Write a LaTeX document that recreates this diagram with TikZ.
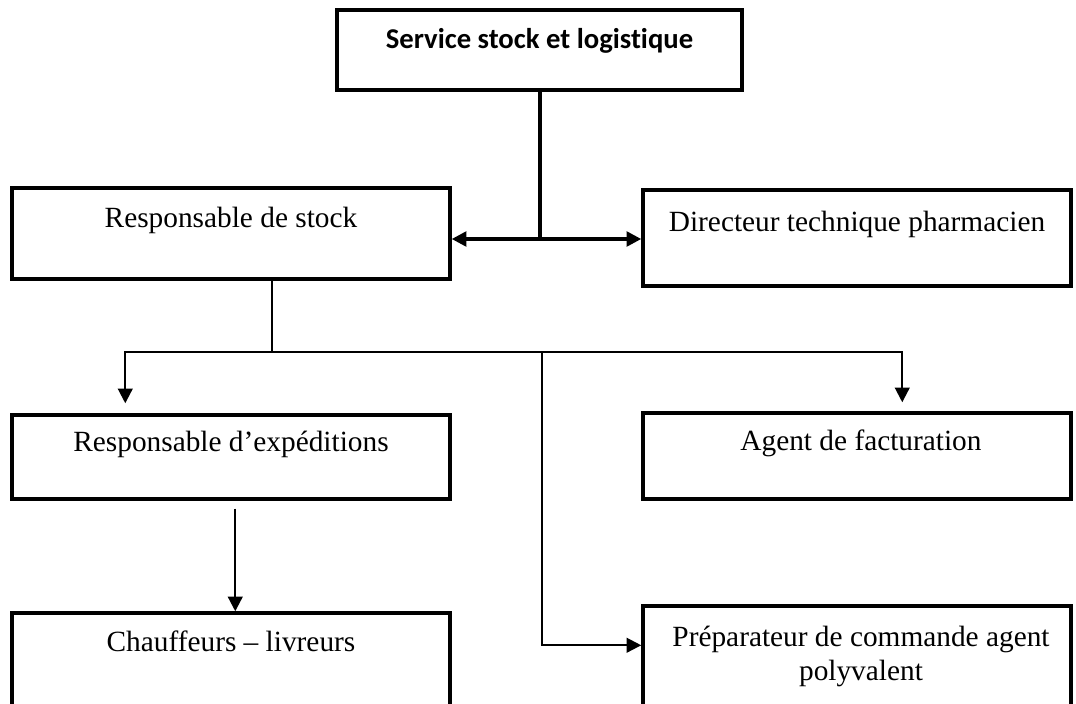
\documentclass[tikz,border=0pt]{standalone}
\usepackage{fontspec}
\setmainfont{Liberation Serif}
\newfontfamily\titlefont[Ligatures=NoCommon]{Carlito}
\usetikzlibrary{arrows.meta,calc}

\tikzset{
  box/.style={draw, rectangle, line width=2.6pt, inner sep=0pt},
  lbl/.style={anchor=base, inner sep=0pt, font=\fontsize{22pt}{28pt}\selectfont},
  ttl/.style={anchor=base, inner sep=0pt, font=\titlefont\bfseries\fontsize{21.5pt}{26pt}\selectfont},
  thickline/.style={line width=2.5pt},
  thinline/.style={line width=1.6pt},
  midline/.style={line width=1.7pt},
  tip/.style={-{Triangle[length=11pt,width=11pt]}},
  tips/.style={{Triangle[length=11pt,width=11pt]}-{Triangle[length=11pt,width=11pt]}}
}

\begin{document}
\begin{tikzpicture}[x=0.75pt,y=-0.75pt]
  \useasboundingbox (0,0) rectangle (1076,704);
  \fill[white] (0,0) rectangle (1076,704);
  \clip (0,0) rectangle (1076,704);

  % boxes
  \node[box, minimum width=303.75pt, minimum height=60pt]   (top)   at (539.5,50) {};
  \node[box, minimum width=328.5pt,  minimum height=68.25pt] (stock) at (231,233.5) {};
  \node[box, minimum width=321pt,    minimum height=72pt]   (dir)   at (857,238) {};
  \node[box, minimum width=328.5pt,  minimum height=63pt]   (exp)   at (231,457) {};
  \node[box, minimum width=321pt,    minimum height=64.5pt] (fact)  at (857,456) {};
  \node[box, minimum width=328.5pt,  minimum height=97.5pt] (chauf) at (231,678) {};
  \node[box, minimum width=321pt,    minimum height=97.5pt] (prep)  at (857,671) {};

  % texts
  \node[ttl] (topT)   at ($(top.north)+(0,40)$)   {Service stock et logistique};
  \node[lbl] (stockT) at ($(stock.north)+(0,41)$) {Responsable de stock};
  \node[lbl] (dirT)   at ($(dir.north)+(0,43)$)   {Directeur technique pharmacien};
  \node[lbl] (expT)   at ($(exp.north)+(0,38)$)   {Responsable d’expéditions};
  \node[lbl] (factT)  at ($(fact.north)+(4,39)$)  {Agent de facturation};
  \node[lbl] (chaufT) at ($(chauf.north)+(0,40)$) {Chauffeurs – livreurs};
  \node[lbl] (prepT)  at ($(prep.north)+(4,42)$)  {Préparateur de commande agent};
  \node[lbl] (prepU)  at ($(prep.north)+(4,76)$)  {polyvalent};

  % junctions
  \coordinate (j1) at (540,239);
  \coordinate (j2) at (272,352);
  \coordinate (j3) at (542,352);

  % upper connectors
  \draw[thickline] (top.south -| j1) -- (j1);
  \draw[thickline, tips] (stock.east |- j1) -- (dir.west |- j1);

  % lower connectors
  \draw[thinline] (stock.south -| j2) -- (j2);
  \draw[thinline, tip] (j2) -| ($(exp.north west)+(115,-10)$);
  \draw[thinline, tip] (j2) -| ($(fact.north west)+(261,-9)$);
  \draw[thinline, tip] (j3) |- ($(prep.north west)+(0,41)$);
  \draw[midline, tip] ($(exp.south west)+(225,8)$) -- ($(chauf.north west)+(225,0)$);
\end{tikzpicture}
\end{document}
